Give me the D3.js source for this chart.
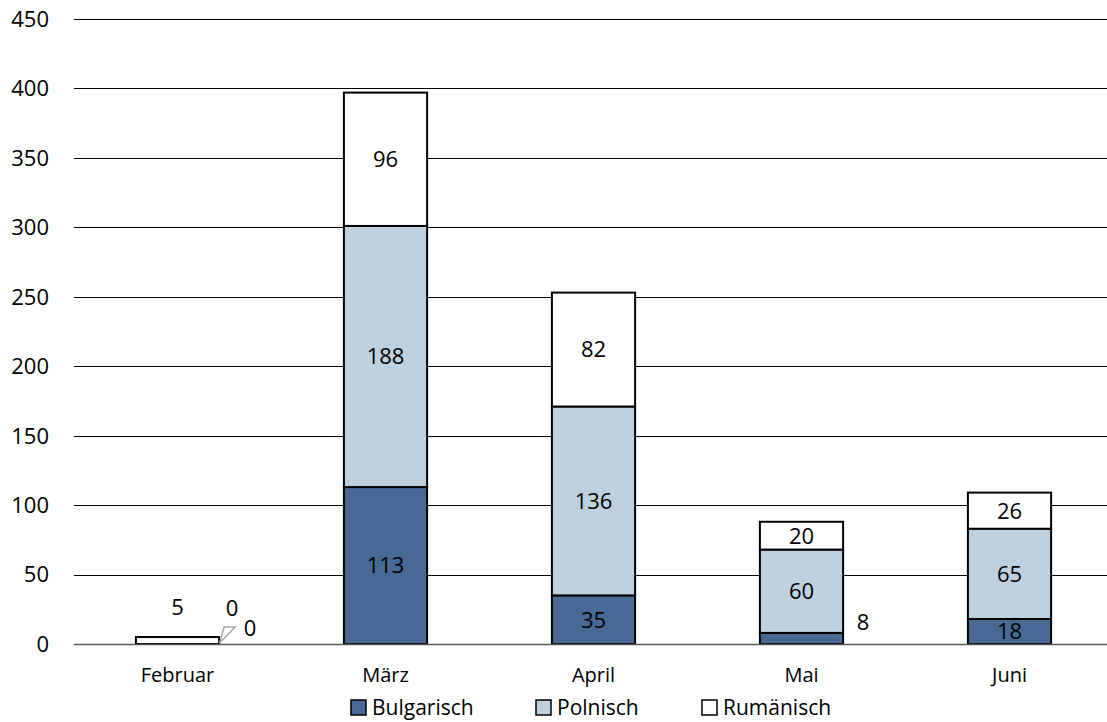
<!DOCTYPE html>
<html>
<head>
<meta charset="utf-8">
<script src="https://cdn.jsdelivr.net/npm/d3@7"></script>
<style>
  body { margin: 0; background: #fff; }
  text { font-family: "Open Sans", Carlito, sans-serif; fill: #000; }
</style>
</head>
<body>
<svg id="chart" width="1107" height="722"></svg>
<script>
// chart data
var months = ["Februar", "März", "April", "Mai", "Juni"];
var bulgarisch = [0, 113, 35, 8, 18];
var polnisch = [0, 188, 136, 60, 65];
var rumaenisch = [5, 96, 82, 20, 26];
var seriesNames = ["Bulgarisch", "Polnisch", "Rumänisch"];
var yTicks = [0, 50, 100, 150, 200, 250, 300, 350, 400, 450];

var colors = ["#466a94", "#bfd0de", "#ffffff"];

var svg = d3.select("#chart");

var x = d3.scaleBand()
    .domain(months)
    .range([73.5, 1113.5])
    .paddingInner(0.6)
    .paddingOuter(0.3);

var y = d3.scaleLinear()
    .domain([0, 450])
    .range([644, 19]);

// gridlines
svg.append("g").selectAll("line")
    .data(yTicks.filter(function(d){ return d > 0; }))
    .enter().append("line")
    .attr("x1", 74).attr("x2", 1107)
    .attr("y1", function(d){ return Math.round(y(d)) + 0.5; })
    .attr("y2", function(d){ return Math.round(y(d)) + 0.5; })
    .attr("stroke", "#000").attr("stroke-width", 1.2);

// y tick labels
svg.append("g").selectAll("text")
    .data(yTicks)
    .enter().append("text")
    .attr("x", 49)
    .attr("y", function(d){ return y(d); })
    .attr("dy", "0.36em")
    .attr("text-anchor", "end")
    .style("font-size", "22px")
    .text(function(d){ return d; });

// stacked data
var rows = months.map(function(m, i){
    return { month: m, Bulgarisch: bulgarisch[i], Polnisch: polnisch[i], "Rumänisch": rumaenisch[i] };
});
var stack = d3.stack().keys(seriesNames)(rows);

var layers = svg.append("g").selectAll("g")
    .data(stack)
    .enter().append("g")
    .attr("fill", function(d, i){ return colors[i]; });

layers.selectAll("rect")
    .data(function(d){ return d.filter(function(p){ return p[1] - p[0] > 0; }); })
    .enter().append("rect")
    .attr("x", function(d){ return x(d.data.month); })
    .attr("width", x.bandwidth())
    .attr("y", function(d){ return y(d[1]); })
    .attr("height", function(d){ return y(d[0]) - y(d[1]); })
    .attr("stroke", "#000")
    .attr("stroke-width", 2);

// baseline
svg.append("line")
    .attr("x1", 74).attr("x2", 1107)
    .attr("y1", 644.5).attr("y2", 644.5)
    .attr("stroke", "#595959").attr("stroke-width", 1.5);

// value labels
var labels = [];
stack.forEach(function(layer, si){
    layer.forEach(function(p, i){
        var v = p[1] - p[0];
        var cx = x(months[i]) + x.bandwidth() / 2;
        var cy = (y(p[0]) + y(p[1])) / 2;
        labels.push({ v: v, x: cx, y: cy, s: si, i: i });
    });
});

// labels that don't fit inside are moved out, like the original
labels.forEach(function(l){
    var right = x(months[l.i]) + x.bandwidth();
    if (l.i === 0) {
        if (l.s === 2) { l.y = y(5) - 30; }
        if (l.s === 0) { l.x = right + 31; l.y = y(0) - 16; }
        if (l.s === 1) { l.x = right + 13; l.y = y(0) - 36; }
    }
    if (l.i === 3 && l.s === 0) { l.x = right + 20; l.y = y(0) - 22; }
});

// leader for the zero labels in Februar
var febRight = x("Februar") + x.bandwidth();
svg.append("path")
    .attr("d", "M" + (febRight + 0.5) + "," + (y(0) - 1) +
               " L" + (febRight + 5) + "," + (y(0) - 17) +
               " L" + (febRight + 16) + "," + (y(0) - 17) + " Z")
    .attr("fill", "none")
    .attr("stroke", "#a6a6a6")
    .attr("stroke-width", 1.5);

svg.append("g").selectAll("text")
    .data(labels)
    .enter().append("text")
    .attr("x", function(d){ return d.x; })
    .attr("y", function(d){ return d.y; })
    .attr("dy", "0.36em")
    .attr("text-anchor", "middle")
    .style("font-size", "22px")
    .text(function(d){ return d.v; });

// category labels
svg.append("g").selectAll("text")
    .data(months)
    .enter().append("text")
    .attr("x", function(d){ return x(d) + x.bandwidth() / 2; })
    .attr("y", 682)
    .attr("text-anchor", "middle")
    .style("font-size", "20px")
    .text(function(d){ return d; });

// legend
var legendX = [351, 536, 702];
var lg = svg.append("g").selectAll("g")
    .data(seriesNames)
    .enter().append("g")
    .attr("transform", function(d, i){ return "translate(" + legendX[i] + ",700)"; });

lg.append("rect")
    .attr("width", 15).attr("height", 15)
    .attr("fill", function(d, i){ return colors[i]; })
    .attr("stroke", "#000").attr("stroke-width", 1.5);

lg.append("text")
    .attr("x", 21)
    .attr("y", 15)
    .style("font-size", "21px")
    .text(function(d){ return d; });
</script>
</body>
</html>
